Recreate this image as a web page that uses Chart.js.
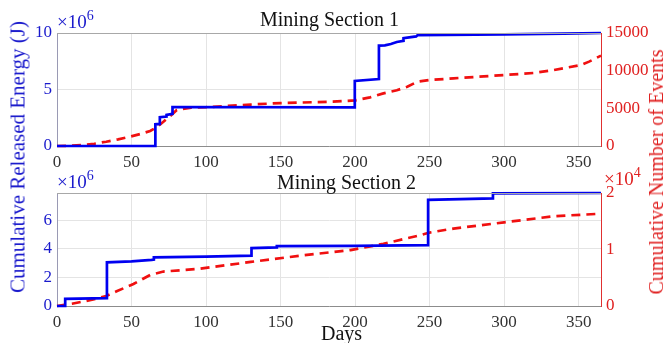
<!DOCTYPE html>
<html>
<head>
<meta charset="utf-8">
<script src="https://cdn.jsdelivr.net/npm/chart.js@4.4.1/dist/chart.umd.min.js"></script>
<style>
  html, body { margin: 0; padding: 0; background: #fff; }
  #wrap {
    position: relative; width: 666px; height: 343px; overflow: hidden;
    font-family: 'Liberation Serif', 'Times New Roman', serif;
  }
  canvas { position: absolute; left: 0; }
  .lbl { position: absolute; white-space: nowrap; line-height: 1; }
  .rot { transform: translate(-50%, -50%) rotate(-90deg); }
  .exp { font-size: 19px; }
  .exp span { font-size: 14px; position: relative; top: -8px; }
</style>
</head>
<body>
<div id="wrap">
  <canvas id="topChart" width="666" height="170" style="top:0"></canvas>
  <canvas id="bottomChart" width="666" height="173" style="top:170px"></canvas>

  <div class="lbl" style="left:260px; top:9px; font-size:20px; color:#111;">Mining Section 1</div>
  <div class="lbl" style="left:277px; top:172px; font-size:20px; color:#111;">Mining Section 2</div>

  <div class="lbl exp" style="left:57px; top:12px; color:#1a1acc;">&times;10<span>6</span></div>
  <div class="lbl exp" style="left:57px; top:172px; color:#1a1acc;">&times;10<span>6</span></div>
  <div class="lbl exp" style="left:604px; top:169px; color:#e02020;">&times;10<span>4</span></div>

  <div class="lbl rot" style="left:18px; top:157px; font-size:21px; color:#1a1acc;">Cumulative Released Energy (J)</div>
  <div class="lbl rot" style="left:656px; top:172px; font-size:20px; color:#e02020;">Cumulative Number of Events</div>
  <div class="lbl" style="left:321px; top:323px; font-size:20px; color:#111;">Days</div>
</div>

<script>
// Mining Section 1 - energy (x10^6 J), step curve
const topEnergyDays = [0, 66, 66, 69, 69, 73.5, 73.5, 77.5, 77.5, 199.8, 199.8, 216, 216, 220, 224, 228, 232.5, 232.5, 241, 242, 300, 340, 365];
const topEnergy     = [0, 0, 1.92, 1.95, 2.55, 2.6, 2.75, 2.85, 3.45, 3.42, 5.75, 5.93, 8.88, 8.9, 9.03, 9.2, 9.3, 9.55, 9.7, 9.82, 9.88, 9.95, 10.0];

// Mining Section 1 - cumulative events
const topEventDays = [0, 10, 18, 25, 33, 41, 49, 56, 62.5, 67, 71.4, 76, 80.4, 90, 100, 130, 150, 185, 200, 210, 219, 228, 235, 241.7, 250, 266, 300, 320, 333.5, 351.5, 357, 365];
const topEvents    = [0, 40, 130, 300, 570, 880, 1234, 1600, 1990, 2500, 3225, 4000, 4777, 5100, 5150, 5500, 5700, 5880, 6050, 6450, 6990, 7400, 7870, 8530, 8760, 8980, 9420, 9700, 10085, 10750, 11200, 12000];

// Mining Section 2 - energy (x10^6 J)
const bottomEnergyDays = [0, 5.5, 5.5, 33.5, 33.5, 50, 63.5, 65, 65, 100, 130.5, 130.5, 147.5, 147.5, 200, 249, 249, 292.5, 292.5, 365];
const bottomEnergy     = [0, 0, 0.5, 0.55, 3.05, 3.12, 3.22, 3.25, 3.4, 3.45, 3.52, 4.05, 4.1, 4.18, 4.2, 4.25, 7.42, 7.52, 7.88, 7.9];

// Mining Section 2 - cumulative events (x10^4)
const bottomEventDays = [0, 10, 17.7, 25, 32.3, 40, 51.3, 62.5, 71.4, 96, 130, 163, 197, 219, 241.7, 250, 266, 300, 333.5, 362.7];
const bottomEvents    = [0, 0.04, 0.08, 0.12, 0.17, 0.26, 0.39, 0.55, 0.61, 0.66, 0.78, 0.89, 0.99, 1.10, 1.24, 1.30, 1.37, 1.48, 1.59, 1.63];

const SERIF = "'Liberation Serif', 'Times New Roman', serif";
const BLUE = '#0000f0';
const RED = '#f01010';
const GRID = '#e4e4e4';

const toPoints = (xs, ys) => xs.map((x, i) => ({ x: x, y: ys[i] }));

// MATLAB style box: draw the top edge that Chart.js leaves out
const topEdge = {
  id: 'topEdge',
  afterDraw(chart) {
    const a = chart.chartArea;
    const ctx = chart.ctx;
    ctx.save();
    ctx.strokeStyle = '#a8a8a8';
    ctx.lineWidth = 1;
    ctx.beginPath();
    ctx.moveTo(a.left, a.top + 0.5);
    ctx.lineTo(a.right, a.top + 0.5);
    ctx.stroke();
    ctx.restore();
  }
};

function makePanel(canvasId, opts) {
  const ctx = document.getElementById(canvasId).getContext('2d');
  return new Chart(ctx, {
    type: 'line',
    data: {
      datasets: [
        {
          data: toPoints(opts.energyDays, opts.energy),
          yAxisID: 'y',
          borderColor: BLUE,
          borderWidth: 2.7,
          pointRadius: 0,
          tension: 0,
          clip: 3
        },
        {
          data: toPoints(opts.eventDays, opts.events),
          yAxisID: 'y1',
          borderColor: RED,
          borderWidth: 2.7,
          borderDash: [9, 6],
          pointRadius: 0,
          tension: 0,
          clip: 3
        }
      ]
    },
    options: {
      responsive: false,
      animation: false,
      layout: { padding: { top: opts.padTop, left: 0, right: 0, bottom: 0 } },
      plugins: { legend: { display: false }, tooltip: { enabled: false } },
      scales: {
        x: {
          type: 'linear',
          min: 0,
          max: 365,
          afterFit: s => { s.height = opts.xHeight; },
          grid: { color: GRID, drawTicks: false },
          border: { color: '#8c8c8c' },
          ticks: {
            stepSize: 50,
            includeBounds: false,
            padding: 6,
            color: '#333',
            font: { family: SERIF, size: 17 }
          }
        },
        y: {
          position: 'left',
          min: 0,
          max: opts.energyMax,
          afterFit: s => { s.width = 57; },
          grid: { color: GRID, drawTicks: false },
          border: { color: '#9a9ab4' },
          ticks: {
            stepSize: opts.energyStep,
            includeBounds: false,
            padding: 5,
            color: '#1a1acc',
            font: { family: SERIF, size: 17 }
          }
        },
        y1: {
          position: 'right',
          min: 0,
          max: opts.eventMax,
          afterFit: s => { s.width = 65; },
          grid: { display: false, drawTicks: false },
          border: { color: '#e03030' },
          ticks: {
            stepSize: opts.eventStep,
            includeBounds: false,
            padding: 5,
            color: '#e02020',
            font: { family: SERIF, size: 17 },
            callback: v => String(v)
          }
        }
      }
    },
    plugins: [topEdge]
  });
}

makePanel('topChart', {
  energyDays: topEnergyDays, energy: topEnergy,
  eventDays: topEventDays, events: topEvents,
  energyMax: 10, energyStep: 5,
  eventMax: 15000, eventStep: 5000,
  padTop: 33, xHeight: 24
});

makePanel('bottomChart', {
  energyDays: bottomEnergyDays, energy: bottomEnergy,
  eventDays: bottomEventDays, events: bottomEvents,
  energyMax: 7.9, energyStep: 2,
  eventMax: 2, eventStep: 1,
  padTop: 23, xHeight: 37
});
</script>
</body>
</html>
